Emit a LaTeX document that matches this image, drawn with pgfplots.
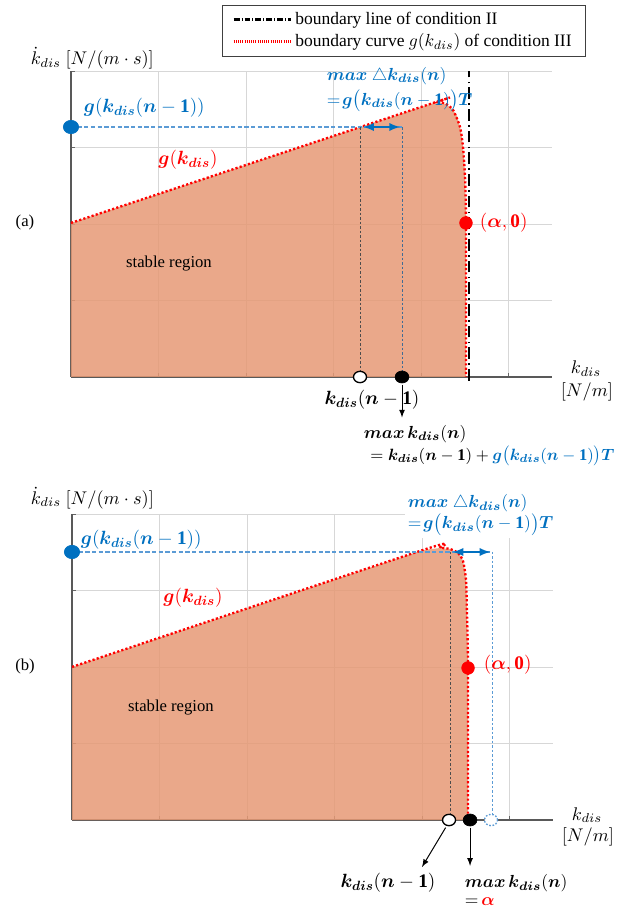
\RequirePackage{fix-cm}
\documentclass[border=0pt]{standalone}
\usepackage{amsmath}
\usepackage{fontspec}
\setmainfont{Liberation Serif}
\usepackage{pgfplots}
\pgfplotsset{compat=1.18}
\DeclareMathAlphabet{\mathbi}{OML}{cmm}{b}{it}
\newcommand{\kd}{\mathbi{k}_{\mathbi{dis}}}
\newcommand{\balpha}{\mathbi{\mathchar"710B}}
\definecolor{fillc}{RGB}{230,153,117}
\definecolor{kblue}{RGB}{0,112,192}
\definecolor{lblue}{RGB}{91,155,213}
\definecolor{gridc}{RGB}{215,215,215}
\newcommand{\LblM}{\fontsize{11.5}{13.5}\selectfont}
\newcommand{\LblS}{\fontsize{10.5}{12.5}\selectfont}
\newcommand{\LblX}{\fontsize{9.8}{11.8}\selectfont}
\newcommand{\LblT}{\fontsize{10}{12}\selectfont}
\newcommand{\LblL}{\fontsize{10.5}{12.5}\selectfont}
\newcommand{\LblU}{\fontsize{11}{13}\selectfont}
\pgfplotsset{
 panel/.style={
  x=52.5pt, y=45.84pt,
  xmin=0, xmax=5.5, ymin=0, ymax=4,
  enlargelimits=false,
  axis lines=left,
  axis line style={draw=black!65, line width=0.8pt},
  xtick={1,2,3,4,5}, ytick={1,2,3,4},
  xticklabel=\empty, yticklabel=\empty,
  tick align=inside, major tick length=2.5pt,
  tick style={draw=black!60, line width=0.6pt},
  grid=major, major grid style={draw=gridc, line width=0.6pt},
  clip=false,
 },
 redcurve/.style={red, line width=1.4pt, dash pattern=on 1.3pt off 1.3pt, smooth, tension=0.4},
 fillstyle/.style={draw=none, fill=fillc, fill opacity=0.85},
}
\begin{document}
\begin{tikzpicture}
\useasboundingbox (-42.6pt,-318.6pt) rectangle (333pt,226.2pt);
% ---------------- panel (a) ----------------
\begin{axis}[panel, axis line style={-},
  legend style={at={(0.3138,1.217)}, anchor=north west, draw=black!75,
    font=\LblL, inner xsep=6pt, inner ysep=2pt, cells={anchor=west}},
  legend image post style={xscale=2},
]
\addlegendimage{black, line width=1.6pt, dash pattern=on 3.5pt off 1.25pt on 0.5pt off 1.25pt}
\addlegendentry{boundary line of condition II}
\addlegendimage{red, line width=1.4pt, dash pattern=on 0.65pt off 0.65pt}
\addlegendentry{boundary curve $g(k_{dis})$ of condition III}

\addplot[fillstyle, forget plot] coordinates {(0,0) (0,2.016) (4.103,3.573) (4.194,3.600) (4.286,3.573) (4.366,3.495) (4.41,3.42) (4.446,3.272) (4.466,3.15) (4.480,3.010) (4.495,2.8) (4.503,2.618) (4.51,2.3) (4.514,2.016) (4.514,0)};
\addplot[redcurve, forget plot] coordinates {(0,2.016) (4.103,3.573) (4.194,3.600) (4.286,3.573) (4.366,3.495) (4.446,3.272) (4.480,3.010) (4.503,2.618) (4.514,2.016) (4.514,0)};
\addplot[black, line width=1.6pt, dash pattern=on 7pt off 2.5pt on 1pt off 2.5pt, forget plot] coordinates {(4.549,-0.05) (4.549,4.0)};
\addplot[lblue, line width=0.7pt, dash pattern=on 2.5pt off 1.5pt, forget plot] coordinates {(0,3.272) (3.783,3.272)};
\addplot[black!70, line width=0.6pt, dash pattern=on 1.5pt off 1.2pt, forget plot] coordinates {(3.303,3.272) (3.303,0)};
\addplot[lblue!70!black, line width=0.6pt, dash pattern=on 1.5pt off 1.2pt, forget plot] coordinates {(3.783,3.272) (3.783,0)};
\addplot[kblue, line width=1.2pt, latex-latex, forget plot] coordinates {(3.34,3.272) (3.76,3.272)};
\addplot[black, line width=0.6pt, -latex, forget plot] coordinates {(3.783,-0.1) (3.783,-0.53)};
\addplot[only marks, mark=*, mark size=4pt, kblue, mark options={xscale=1.15}, forget plot] coordinates {(0,3.272)};
\addplot[only marks, mark=*, mark size=3.8pt, red, forget plot] coordinates {(4.514,2.016)};
\addplot[only marks, mark=*, mark size=3.4pt, black, mark options={xscale=1.15, fill=white, line width=0.8pt}, forget plot] coordinates {(3.303,0)};
\addplot[only marks, mark=*, mark size=3.6pt, black, mark options={xscale=1.15}, forget plot] coordinates {(3.783,0)};

\node[anchor=west, text=kblue, font=\LblM] at (axis cs:0.08,3.52) {$\mathbi{g}(\kd(\mathbi{n}-\mathbf{1}))$};
\node[text=red, font=\LblM] at (axis cs:1.337,2.84) {$\mathbi{g}(\kd)$};
\node[font=\LblT] at (axis cs:-0.526,2.016) {(a)};
\node[font=\LblT] at (axis cs:1.12,1.479) {stable region};
\node[anchor=west, text=kblue, font=\LblS] at (axis cs:2.857,3.94) {$\mathbi{max}\ \triangle\kd(\mathbi{n})$};
\node[anchor=west, text=kblue, font=\LblS] at (axis cs:2.857,3.613) {$=\!\mathbi{g}\bigl(\kd(\mathbi{n}-\mathbf{1})\bigr)\mathbi{T}$};
\node[anchor=west, text=red, font=\LblM] at (axis cs:4.606,2.016) {$(\balpha,\mathbf{0})$};
\node[font=\LblU] at (axis cs:5.886,0.105) {$k_{dis}$};
\node[font=\LblU] at (axis cs:5.897,-0.196) {$[N/m]$};
\node[font=\LblM] at (axis cs:3.44,-0.30) {$\kd(\mathbi{n}-\mathbf{1})$};
\node[anchor=west, font=\LblS] at (axis cs:3.28,-0.746) {$\mathbi{max}\,\kd(\mathbi{n})$};
\node[anchor=west, font=\LblX] at (axis cs:3.30,-1.034) {${}=\kd(\mathbi{n}-\mathbf{1})+{}$\textcolor{kblue}{$\mathbi{g}\bigl(\kd(\mathbi{n}-\mathbf{1})\bigr)\mathbi{T}$}};
\node[anchor=west, font=\LblU] at (axis cs:-0.526,4.175) {$\dot{k}_{dis}\ [N/(m\cdot s)]$};
\end{axis}

% ---------------- panel (b) ----------------
\begin{axis}[panel, axis line style={-}, at={(0.6pt,-265.8pt)}, anchor=south west]
\addplot[fillstyle, forget plot] coordinates {(0,0) (0,2.003) (4.011,3.534) (4.206,3.560) (4.32,3.547) (4.411,3.495) (4.445,3.45) (4.469,3.390) (4.49,3.27) (4.503,3.141) (4.51,2.95) (4.514,2.709) (4.52,2.35) (4.526,2.003) (4.526,0)};
\addplot[redcurve, forget plot] coordinates {(0,2.003) (4.011,3.534) (4.206,3.560) (4.32,3.547) (4.411,3.495) (4.469,3.390) (4.503,3.141) (4.514,2.709) (4.526,2.003) (4.526,0)};
\addplot[lblue, line width=0.7pt, dash pattern=on 2.5pt off 1.5pt, forget plot] coordinates {(0,3.508) (4.8,3.508)};
\addplot[black!70, line width=0.6pt, dash pattern=on 1.5pt off 1.2pt, forget plot] coordinates {(4.331,3.508) (4.331,0)};
\addplot[lblue, line width=0.6pt, dash pattern=on 1.5pt off 1.2pt, forget plot] coordinates {(4.8,3.508) (4.8,0)};
\addplot[kblue, line width=1.2pt, latex-latex, forget plot] coordinates {(4.35,3.508) (4.78,3.508)};
\addplot[black, line width=0.6pt, -latex, forget plot] coordinates {(4.27,-0.1) (4.0,-0.615)};
\addplot[black, line width=0.6pt, -latex, forget plot] coordinates {(4.549,-0.1) (4.549,-0.6)};
\addplot[only marks, mark=*, mark size=4pt, kblue, mark options={xscale=1.15}, forget plot] coordinates {(0,3.508)};
\addplot[only marks, mark=*, mark size=3.8pt, red, forget plot] coordinates {(4.526,1.99)};
\addplot[only marks, mark=*, mark size=3.4pt, black, mark options={xscale=1.15, fill=white, line width=0.8pt}, forget plot] coordinates {(4.309,0)};
\addplot[only marks, mark=*, mark size=3.6pt, black, mark options={xscale=1.15}, forget plot] coordinates {(4.549,0)};
\addplot[only marks, mark=*, mark size=3.4pt, lblue, mark options={xscale=1.15, fill=white, line width=0.8pt, dash pattern=on 1pt off 1pt}, forget plot] coordinates {(4.789,0)};

\node[anchor=north west, fill=white, inner sep=1.5pt, align=left, text=kblue, font=\LblS] at (axis cs:3.806,4.293)
  {$\mathbi{max}\ \triangle\kd(\mathbi{n})$\\$=\!\mathbi{g}\bigl(\kd(\mathbi{n}-\mathbf{1})\bigr)\mathbi{T}$};
\node[anchor=west, text=kblue, font=\LblM] at (axis cs:0.034,3.665) {$\mathbi{g}(\kd(\mathbi{n}-\mathbf{1}))$};
\node[text=red, font=\LblM] at (axis cs:1.383,2.906) {$\mathbi{g}(\kd)$};
\node[font=\LblT] at (axis cs:-0.537,2.003) {(b)};
\node[font=\LblT] at (axis cs:1.131,1.466) {stable region};
\node[anchor=west, text=red, font=\LblM] at (axis cs:4.64,2.03) {$(\balpha,\mathbf{0})$};
\node[font=\LblU] at (axis cs:5.886,0.065) {$k_{dis}$};
\node[font=\LblU] at (axis cs:5.897,-0.223) {$[N/m]$};
\node[font=\LblM] at (axis cs:3.611,-0.825) {$\kd(\mathbi{n}-\mathbf{1})$};
\node[anchor=west, font=\LblS] at (axis cs:4.423,-0.825) {$\mathbi{max}\,\kd(\mathbi{n})$};
\node[anchor=west, font=\LblS] at (axis cs:4.423,-1.073) {$=$\,\textcolor{red}{$\balpha$}};
\node[anchor=west, font=\LblU] at (axis cs:-0.537,4.215) {$\dot{k}_{dis}\ [N/(m\cdot s)]$};
\end{axis}
\end{tikzpicture}
\end{document}
